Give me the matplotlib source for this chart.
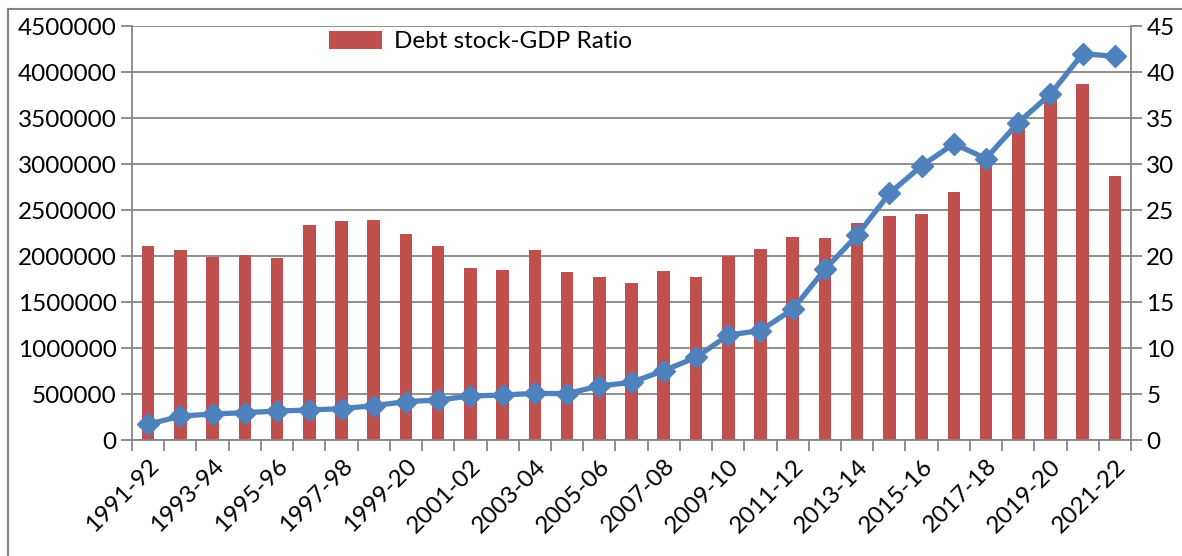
import matplotlib.pyplot as plt
import numpy as np
from matplotlib.lines import Line2D
from matplotlib.ticker import FuncFormatter

plt.rcParams['font.family'] = ['Lato', 'DejaVu Sans']

years = ['1991-92', '1992-93', '1993-94', '1994-95', '1995-96', '1996-97', '1997-98',
         '1998-99', '1999-20', '2000-01', '2001-02', '2002-03', '2003-04', '2004-05',
         '2005-06', '2006-07', '2007-08', '2008-09', '2009-10', '2010-11', '2011-12',
         '2012-13', '2013-14', '2014-15', '2015-16', '2016-17', '2017-18', '2018-19',
         '2019-20', '2020-21', '2021-22']

# bars: Debt stock-GDP ratio (right axis)
ratio = [21.1, 20.6, 19.9, 20.1, 19.8, 23.4, 23.8, 23.9, 22.4, 21.1, 18.7, 18.5, 20.7,
         18.3, 17.7, 17.1, 18.4, 17.7, 20.0, 20.8, 22.1, 22.0, 23.6, 24.3, 24.6, 27.0,
         30.2, 33.9, 37.3, 38.7, 28.7]

# line: debt stock (left axis)
debt_stock = [170000, 260000, 283000, 297000, 315000, 326000, 341000, 373000, 417000,
              435000, 478000, 489000, 507000, 504000, 587000, 627000, 754000, 898000,
              1140000, 1190000, 1420000, 1855000, 2225000, 2680000, 2980000, 3220000,
              3060000, 3450000, 3760000, 4200000, 4170000]

red = '#C0504D'
blue = '#4F81BD'
grey = '#868686'
fs = 17.5

fig = plt.figure(figsize=(11.82, 5.56), dpi=100)
ax1 = fig.add_axes([0.1117, 0.2086, 0.8452, 0.7446])
ax2 = ax1.twinx()

x = np.arange(len(years))

# bars + grid on the right axis, line on the left axis drawn above
ax2.set_axisbelow(True)
ax2.yaxis.grid(True, color=grey, lw=1.3)
bars = ax2.bar(x, ratio, width=0.39, color=red, label='Debt stock-GDP Ratio')
ax2.set_ylim(0, 45)
ax2.set_yticks(range(0, 46, 5))

ax1.plot(x, debt_stock, color=blue, lw=3.8, marker='D', markersize=11,
         markeredgecolor=blue)
ax1.set_ylim(0, 4500000)
ax1.set_yticks(range(0, 4500001, 500000))
ax1.yaxis.set_major_formatter(FuncFormatter(lambda v, p: '%d' % v))
ax1.set_zorder(ax2.get_zorder() + 1)
ax1.patch.set_visible(False)

ax1.set_xlim(-0.5, len(years) - 0.5)
ax1.set_xticks(np.arange(-0.5, len(years), 1))
ax1.set_xticklabels([])
ax1.set_xticks(x[::2], minor=True)
ax1.set_xticklabels([years[i] for i in x[::2]], minor=True, rotation=45,
                    ha='right', rotation_mode='anchor', fontsize=fs)
ax1.tick_params(axis='x', which='minor', length=0, pad=11)
ax1.tick_params(axis='x', which='major', length=8, width=1.3, color=grey)

for a in (ax1, ax2):
    for s in a.spines.values():
        s.set_visible(False)
    a.tick_params(axis='y', length=8, width=1.3, color=grey, labelsize=fs, pad=3)

ax1.spines['left'].set_visible(True)
ax1.spines['bottom'].set_visible(True)
ax2.spines['right'].set_visible(True)
for s in (ax1.spines['left'], ax1.spines['bottom'], ax2.spines['right']):
    s.set_color(grey)
    s.set_linewidth(1.3)

ax2.legend(handles=[bars], loc='upper left', bbox_to_anchor=(0.278, 0.945),
           bbox_transform=fig.transFigure, frameon=False, fontsize=fs,
           handlelength=2.2, handleheight=0.8, handletextpad=0.5, borderaxespad=0,
           borderpad=0)

# outer chart frame (cut at right and bottom)
fig.add_artist(Line2D([0.0068, 0.0068], [0, 0.9838], transform=fig.transFigure,
                      color=grey, lw=1.5))
fig.add_artist(Line2D([0.0068, 1], [0.9838, 0.9838], transform=fig.transFigure,
                      color=grey, lw=1.5))

fig.savefig('out.png', dpi=100)
